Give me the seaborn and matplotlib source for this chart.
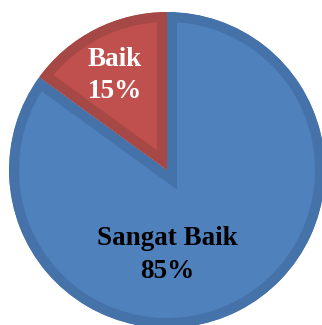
import matplotlib
matplotlib.use("Agg")
import matplotlib.pyplot as plt
import seaborn as sns

categories = ["Sangat Baik", "Baik"]
values = [85, 15]
label_texts = ["Sangat Baik\n85%", "Baik\n15%"]

fill_colors = ["#4F81BD", "#C0504D"]
edge_colors = ["#4672AA", "#A64845"]
text_colors = ["black", "white"]

sns.set_style("white")
plt.rcParams['font.family'] = ['Liberation Serif', 'DejaVu Serif']

W, H = 322, 325
fig = plt.figure(figsize=(W / 100, H / 100), dpi=100)
ax = fig.add_axes([0, 0, 1, 1])

cx, cy, r = 167, 170, 158

wedges, _ = ax.pie(values, colors=fill_colors, startangle=90, counterclock=False,
                   radius=1, center=(0, 0), frame=False)
ax.set_xlim(-cx / r, (W - cx) / r)
ax.set_ylim((cy - H) / r, cy / r)
ax.set_aspect("equal")
ax.axis("off")

for w, ec in zip(wedges, edge_colors):
    w.set_edgecolor(ec)
    w.set_linewidth(14.4)
    w.set_joinstyle("miter")
    w.set_clip_on(True)
    w.set_clip_path(w)

label_pos = [(0.0, -0.538), (-0.329, 0.60)]
for (x, y), t, c in zip(label_pos, label_texts, text_colors):
    ax.text(x, y, t, ha="center", va="center", color=c, fontsize=19.5,
            fontweight="bold", linespacing=1.37)

fig.savefig("out.png", dpi=100)
